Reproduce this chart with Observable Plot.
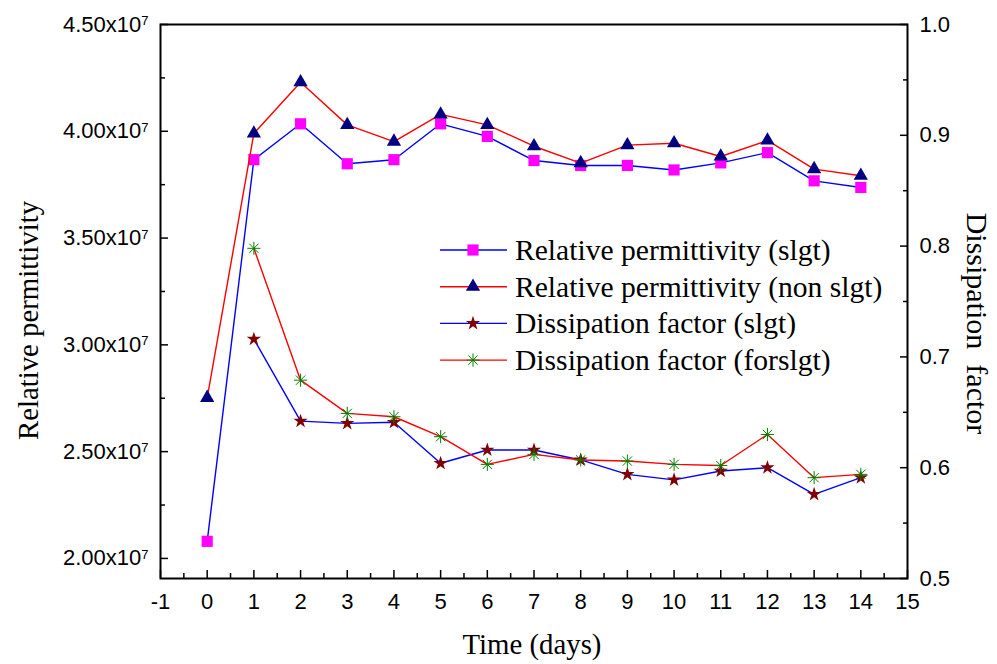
<!DOCTYPE html>
<html>
<head>
<meta charset="utf-8">
<script src="https://cdn.jsdelivr.net/npm/d3@7"></script>
<script src="https://cdn.jsdelivr.net/npm/@observablehq/plot@0.6"></script>
<style>
  html, body { margin: 0; padding: 0; background: #fff; }
  #chart { width: 997px; height: 664px; }
</style>
</head>
<body>
<div id="chart"></div>
<script>
// ---- data (permittivity in units of 1e7) ----
const days = [0, 1, 2, 3, 4, 5, 6, 7, 8, 9, 10, 11, 12, 13, 14];
const permSlgt = [2.080, 3.867, 4.035, 3.848, 3.867, 4.035, 3.976, 3.863, 3.840, 3.840, 3.819, 3.852, 3.900, 3.768, 3.737];
const permNonSlgt = [2.752, 3.990, 4.230, 4.030, 3.952, 4.079, 4.030, 3.930, 3.851, 3.935, 3.944, 3.882, 3.957, 3.823, 3.792];
const dissDays = [1, 2, 3, 4, 5, 6, 7, 8, 9, 10, 11, 12, 13, 14];
const dissSlgt = [0.716, 0.642, 0.640, 0.641, 0.604, 0.616, 0.616, 0.607, 0.594, 0.589, 0.597, 0.600, 0.576, 0.591];
const dissForslgt = [0.798, 0.679, 0.649, 0.646, 0.628, 0.603, 0.612, 0.607, 0.606, 0.603, 0.602, 0.630, 0.591, 0.594];

const seriesNames = ["Relative permittivity (slgt)", "Relative permittivity (non slgt)", "Dissipation factor (slgt)", "Dissipation factor (forslgt)"];

const xTicks = [-1, 0, 1, 2, 3, 4, 5, 6, 7, 8, 9, 10, 11, 12, 13, 14, 15];
const xMinorTicks = [-0.5, 0.5, 1.5, 2.5, 3.5, 4.5, 5.5, 6.5, 7.5, 8.5, 9.5, 10.5, 11.5, 12.5, 13.5, 14.5];
const leftTicks = [2.0, 2.5, 3.0, 3.5, 4.0, 4.5];
const leftMinorTicks = [2.25, 2.75, 3.25, 3.75, 4.25];
const rightTicks = [0.5, 0.6, 0.7, 0.8, 0.9, 1.0];
const rightMinorTicks = [0.55, 0.65, 0.75, 0.85, 0.95];

const xDomain = [-1, 15];
const leftDomain = [1.906, 4.5];
const rightDomain = [0.5, 1.0];

// map right-axis values onto the left scale (dual axis)
const toLeft = d3.scaleLinear().domain(rightDomain).range(leftDomain);

const permSlgtData = days.map((d, i) => ({x: d, y: permSlgt[i]}));
const permNonData = days.map((d, i) => ({x: d, y: permNonSlgt[i]}));
const dissSlgtData = dissDays.map((d, i) => ({x: d, y: toLeft(dissSlgt[i])}));
const dissForData = dissDays.map((d, i) => ({x: d, y: toLeft(dissForslgt[i])}));

const BLUE = "#0000ff", RED = "#ff0000";
const SERIF = "'Liberation Serif', 'Times New Roman', serif";
const SANS = "'Liberation Sans', Arial, sans-serif";
const TICK_FS = 22;

const styles = [
  {line: BLUE, symbol: "square", fill: "#ff00ff", r: 6.3},
  {line: RED, symbol: "triangle", fill: "#000080", r: 5.3},
  {line: BLUE, symbol: "star", fill: "#800000", r: 4.5},
  {line: RED, symbol: "asterisk", fill: "#008000", r: 4.3}
];

const chart = Plot.plot({
  width: 997,
  height: 664,
  marginLeft: 160,
  marginRight: 90,
  marginTop: 24,
  marginBottom: 86,
  style: {fontFamily: SANS, fontSize: TICK_FS + "px", color: "#000", background: "#fff", overflow: "visible"},
  x: {domain: xDomain},
  y: {domain: leftDomain},
  marks: [
    // left axis labels & ticks
    Plot.axisY({anchor: "left", ticks: leftTicks, tickSize: 0, tickPadding: 12, tickFormat: d => d.toFixed(2) + "x10", fontSize: TICK_FS, label: null}),
    Plot.axisY({anchor: "left", ticks: leftTicks, tickSize: 8, dx: 8, fill: "none", tickFormat: () => "", strokeWidth: 1.5, label: null}),
    Plot.axisY({anchor: "left", ticks: leftMinorTicks, tickSize: 5, dx: 5, fill: "none", tickFormat: () => "", strokeWidth: 1.5, label: null}),
    // right axis labels & ticks
    Plot.axisY({anchor: "right", ticks: rightTicks.map(toLeft), tickSize: 0, tickPadding: 12, tickFormat: d => toLeft.invert(d).toFixed(1), fontSize: TICK_FS, label: null}),
    Plot.axisY({anchor: "right", ticks: rightTicks.map(toLeft), tickSize: 8, dx: -8, fill: "none", tickFormat: () => "", strokeWidth: 1.5, label: null}),
    Plot.axisY({anchor: "right", ticks: rightMinorTicks.map(toLeft), tickSize: 5, dx: -5, fill: "none", tickFormat: () => "", strokeWidth: 1.5, label: null}),
    // bottom axis
    Plot.axisX({anchor: "bottom", ticks: xTicks, tickSize: 0, tickPadding: 15, tickFormat: d => String(d), fontSize: TICK_FS, label: null}),
    Plot.axisX({anchor: "bottom", ticks: xTicks, tickSize: 8, dy: -8, fill: "none", tickFormat: () => "", strokeWidth: 1.5, label: null}),
    Plot.axisX({anchor: "bottom", ticks: xMinorTicks, tickSize: 5, dy: -5, fill: "none", tickFormat: () => "", strokeWidth: 1.5, label: null}),
    Plot.frame({stroke: "#000", strokeWidth: 2}),
    // series
    Plot.line(permSlgtData, {x: "x", y: "y", stroke: styles[0].line, strokeWidth: 1.4}),
    Plot.dot(permSlgtData, {x: "x", y: "y", symbol: styles[0].symbol, fill: styles[0].fill, r: styles[0].r, stroke: "none"}),
    Plot.line(permNonData, {x: "x", y: "y", stroke: styles[1].line, strokeWidth: 1.4}),
    Plot.dot(permNonData, {x: "x", y: "y", symbol: styles[1].symbol, fill: styles[1].fill, r: styles[1].r, stroke: "none"}),
    Plot.line(dissSlgtData, {x: "x", y: "y", stroke: styles[2].line, strokeWidth: 1.4}),
    Plot.dot(dissSlgtData, {x: "x", y: "y", symbol: styles[2].symbol, fill: styles[2].fill, r: styles[2].r, stroke: "none"}),
    Plot.line(dissForData, {x: "x", y: "y", stroke: styles[3].line, strokeWidth: 1.4}),
    Plot.dot(dissForData, {x: "x", y: "y", symbol: "plus", stroke: styles[3].fill, r: styles[3].r, strokeWidth: 1}),
    Plot.dot(dissForData, {x: "x", y: "y", symbol: "times", stroke: styles[3].fill, r: styles[3].r, strokeWidth: 1}),
    // axis titles
    Plot.text(["Relative permittivity"], {frameAnchor: "left", text: d => d, rotate: -90, dx: -132, dy: 19, lineAnchor: "middle", textAnchor: "middle", fontFamily: SERIF, fontSize: 28.8, fill: "#000"}),
    Plot.text(["Dissipation  factor"], {frameAnchor: "right", text: d => d, rotate: 90, dx: 69, dy: 22, lineAnchor: "middle", textAnchor: "middle", fontFamily: SERIF, fontSize: 30, fill: "#000"}),
    Plot.text(["Time (days)"], {frameAnchor: "bottom", text: d => d, dx: -2, dy: 66, lineAnchor: "middle", textAnchor: "middle", fontFamily: SERIF, fontSize: 28.8, fill: "#000"})
  ]
});

document.getElementById("chart").appendChild(chart);

// superscript exponent on left tick labels
d3.select(chart).selectAll("text").each(function() {
  const t = d3.select(this);
  const s = t.text();
  if (/^\d\.\d\dx10$/.test(s)) {
    t.append("tspan").attr("dy", "-0.5em").attr("font-size", "13px").text("7");
  }
});

// legend inside the plot area
const legend = d3.select(chart).append("g").attr("class", "legend").attr("text-anchor", "start");
const lx0 = 440, lx1 = 507, lmx = 473, ltx = 515, ly0 = 250, lstep = 36.7;
seriesNames.forEach((name, i) => {
  const st = styles[i];
  const y = ly0 + i * lstep;
  legend.append("line").attr("x1", lx0).attr("x2", lx1).attr("y1", y).attr("y2", y)
    .attr("stroke", st.line).attr("stroke-width", 1.4);
  const size = Math.PI * st.r * st.r;
  if (st.symbol === "asterisk") {
    [d3.symbolPlus, d3.symbolTimes].forEach(sym => {
      legend.append("path").attr("transform", `translate(${lmx},${y})`)
        .attr("d", d3.symbol(sym, size)()).attr("fill", "none").attr("stroke", st.fill).attr("stroke-width", 1);
    });
  } else {
    const sym = {square: d3.symbolSquare, triangle: d3.symbolTriangle, star: d3.symbolStar}[st.symbol];
    legend.append("path").attr("transform", `translate(${lmx},${y})`)
      .attr("d", d3.symbol(sym, size)()).attr("fill", st.fill);
  }
  legend.append("text").attr("x", ltx).attr("y", y + 10).attr("text-anchor", "start")
    .attr("font-family", SERIF).attr("font-size", 29.6).attr("fill", "#000").text(name);
});
</script>
</body>
</html>
